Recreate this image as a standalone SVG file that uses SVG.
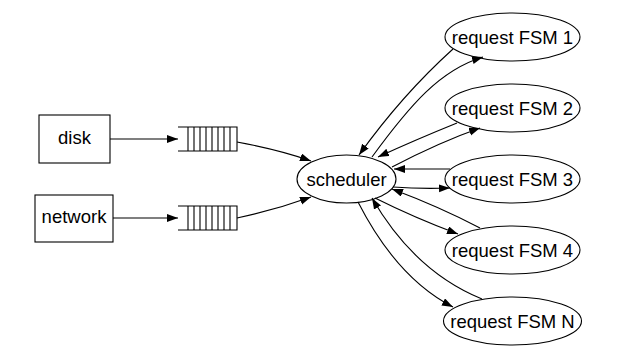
<svg xmlns="http://www.w3.org/2000/svg" width="628" height="356" viewBox="0 0 628 356">
<defs>
<marker id="ah" markerUnits="userSpaceOnUse" markerWidth="12" markerHeight="9" refX="11" refY="4" orient="auto">
<path d="M0,0 L11,4 L0,8 z" fill="#000"/>
</marker>
<style>
.n{fill:#fff;stroke:#000;stroke-width:1.1}
.t{font-family:"Liberation Sans",Arial,sans-serif;font-size:18.5px;fill:#000;text-anchor:middle}
.e{fill:none;stroke:#000;stroke-width:1.1;marker-end:url(#ah)}
.q{fill:none;stroke:#000;stroke-width:1.1}
</style>
</defs>
<rect width="628" height="356" fill="#fff"/>
<g id="disk"><rect class="n" x="39" y="115" width="71" height="48"/><text class="t" x="74.5" y="144">disk</text></g>
<g id="network"><rect class="n" x="35" y="195" width="78" height="47"/><text class="t" x="74" y="223">network</text></g>
<g id="queue1"><path class="q" d="M178,127 H237 V151 H178 M188,127 V151 M194,127 V151 M200,127 V151 M206,127 V151 M212,127 V151 M218,127 V151 M224,127 V151 M230,127 V151"/></g>
<g id="queue2"><path class="q" d="M178,206 H237 V230 H178 M188,206 V230 M194,206 V230 M200,206 V230 M206,206 V230 M212,206 V230 M218,206 V230 M224,206 V230 M230,206 V230"/></g>
<g id="scheduler"><ellipse class="n" cx="346.5" cy="179" rx="49.5" ry="24"/><text class="t" x="346.5" y="185.5">scheduler</text></g>
<g id="fsm1"><ellipse class="n" cx="512.5" cy="37" rx="67.5" ry="24"/><text class="t" x="512.5" y="43.5">request FSM 1</text></g>
<g id="fsm2"><ellipse class="n" cx="512.5" cy="108" rx="67.5" ry="24"/><text class="t" x="512.5" y="114.5">request FSM 2</text></g>
<g id="fsm3"><ellipse class="n" cx="512.5" cy="179" rx="67.5" ry="24"/><text class="t" x="512.5" y="185.5">request FSM 3</text></g>
<g id="fsm4"><ellipse class="n" cx="512.5" cy="250" rx="67.5" ry="24"/><text class="t" x="512.5" y="256.5">request FSM 4</text></g>
<g id="fsmN"><ellipse class="n" cx="512.5" cy="321" rx="69" ry="24"/><text class="t" x="512.5" y="327.5">request FSM N</text></g>
<g id="connectors">
<path class="e" d="M110,139 H178"/>
<path class="e" d="M113,218 H178"/>
<path class="e" d="M237,142 Q280,150 311,161"/>
<path class="e" d="M237,218 Q275,210 311,197"/>
<path class="e" d="M453,49 Q402,95 359,155"/>
<path class="e" d="M372,157 C410,105 440,70 483,57"/>
<path class="e" d="M457,123 Q415,140 378,157"/>
<path class="e" d="M392,167 Q440,142 480,128"/>
<path class="e" d="M450,169 L394,169"/>
<path class="e" d="M393,187 Q420,189 450,188"/>
<path class="e" d="M480,228 Q440,207 392,189"/>
<path class="e" d="M375,198 Q415,218 458,234"/>
<path class="e" d="M482,299 C445,284 405,255 372,198"/>
<path class="e" d="M358,202 C380,245 410,285 453,307"/>
</g>
</svg>
